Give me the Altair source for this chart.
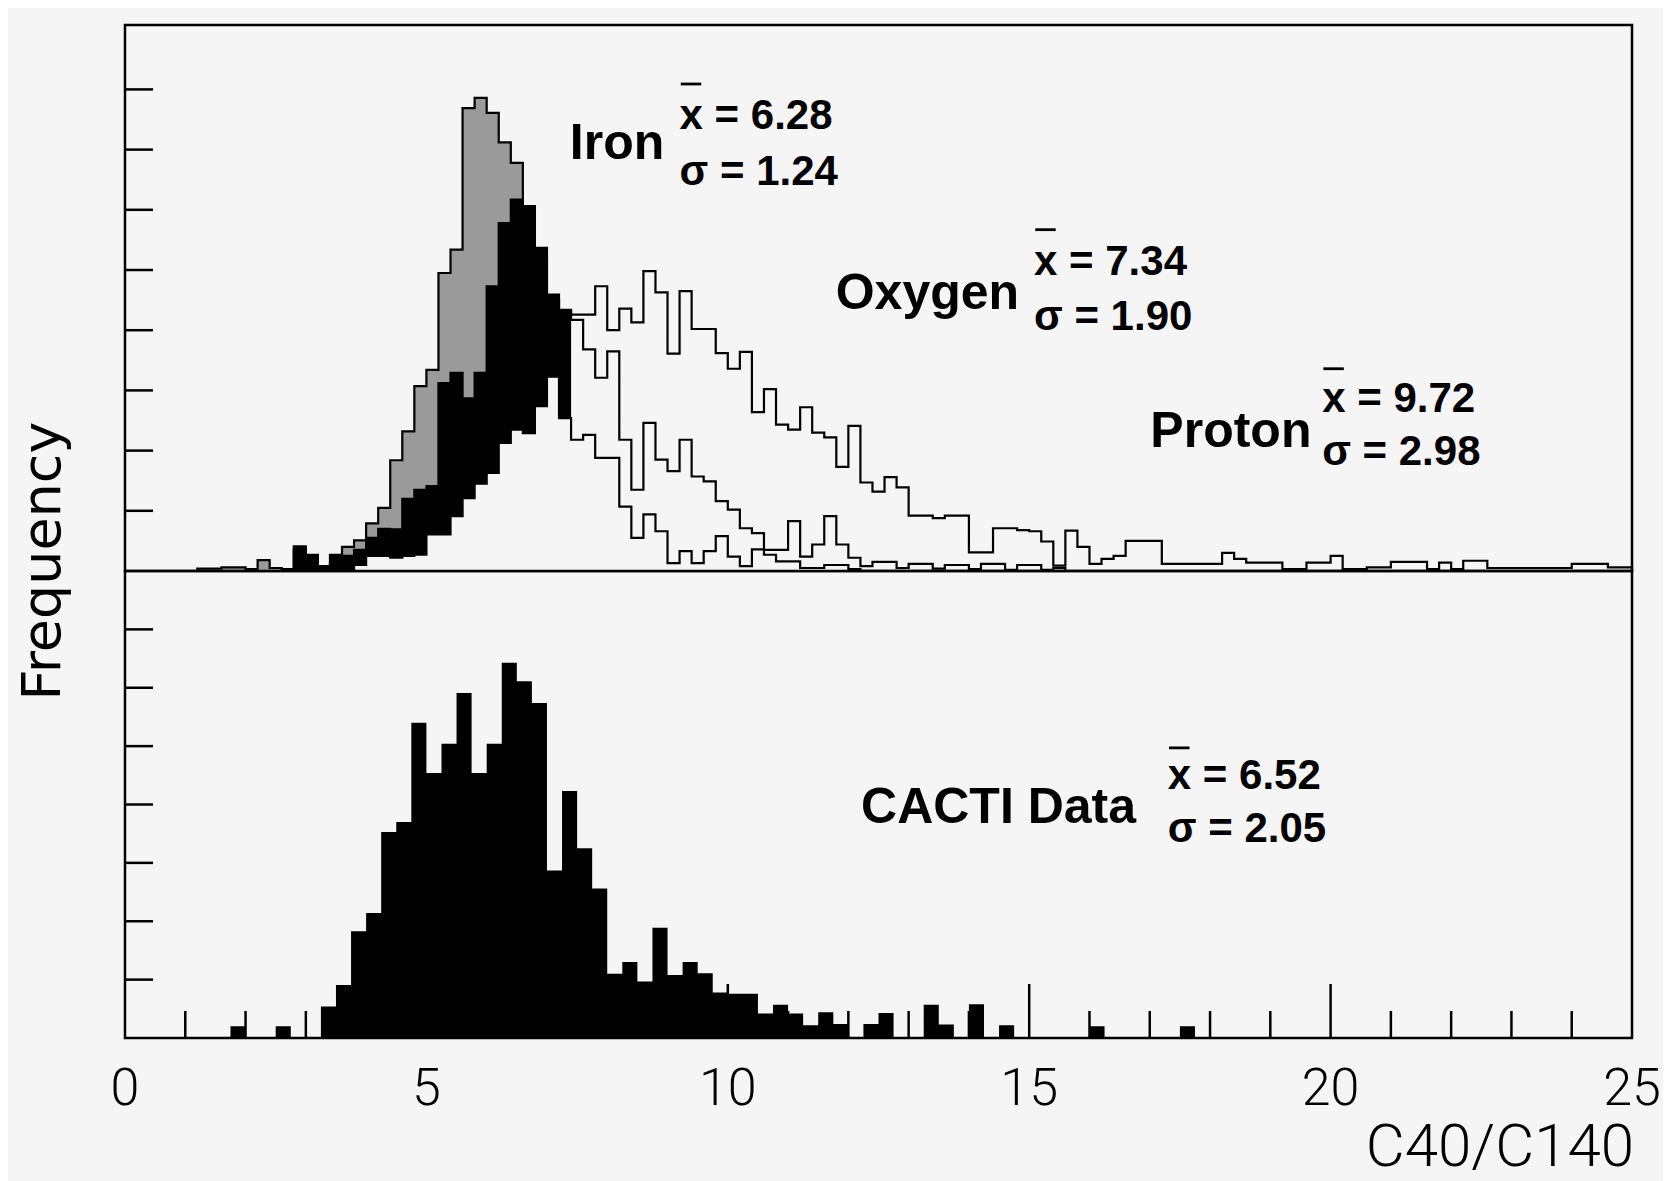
import altair as alt
import pandas as pd

# ---------------- data ----------------
# heights are in units of the y-tick spacing (the axes carry no numbers)
TOP_BIN = 0.2
BOT_BIN = 0.25

# upper panel, grey-shaded histogram (shading stops at fill_end, outline continues)
grey_start = 1.2
grey_vals = [0.04, 0.04, 0.06, 0.06, 0.03, 0.18, 0.05, 0.03,
             0.35, 0.22, 0.08, 0.12, 0.40, 0.51, 0.79, 1.05,
             1.84, 2.32, 3.07, 3.34, 4.95, 5.34, 7.69, 7.86,
             7.61, 7.12, 6.78, 6.00, 5.20, 4.50, 4.30,
             4.17, 3.68, 3.21, 3.65, 2.18, 1.35, 2.46, 1.85,
             1.66, 2.18, 1.57, 1.49, 1.16, 1.02, 0.71, 0.63,
             0.35, 0.35, 0.83, 0.24, 0.44, 0.91, 0.44, 0.22,
             0.08, 0.15, 0.15, 0.05, 0.12, 0.12, 0.04, 0.10,
             0.10, 0.03, 0.12, 0.12, 0.02, 0.10, 0.10, 0.02, 0.05]

# upper panel, black-filled histogram (fill stops at fill_end, outline continues)
black_start = 2.8
black_vals = [0.41, 0.27, 0.05, 0.27, 0.25, 0.35, 0.55, 0.70,
              0.69, 1.20, 1.35, 1.41, 3.12, 3.29, 2.87, 3.29,
              4.73, 5.78, 6.17, 6.06, 5.37, 4.59, 4.34,
              4.26, 4.26, 4.73, 4.00, 4.36, 4.13, 4.98, 4.63,
              3.61, 4.65, 4.02, 4.02, 3.62, 3.36, 3.64, 2.64,
              3.02, 2.43, 2.35, 2.72, 2.30, 2.22, 1.73, 2.41,
              1.47, 1.32, 1.56, 1.39, 0.92, 0.92, 0.88, 0.92,
              0.92, 0.31, 0.31, 0.71, 0.71, 0.68, 0.66, 0.49,
              0.09, 0.67, 0.40, 0.12, 0.20, 0.25, 0.50, 0.50,
              0.50, 0.12, 0.12, 0.12, 0.12, 0.12, 0.30, 0.20,
              0.14, 0.14, 0.14, 0.03, 0.03, 0.14, 0.14, 0.25,
              0.03, 0.03, 0.06, 0.06, 0.15, 0.15, 0.15, 0.03,
              0.14, 0.03, 0.17, 0.17, 0.05, 0.05, 0.05, 0.05,
              0.05, 0.05, 0.05, 0.12, 0.12, 0.12, 0.06, 0.06]

# upper panel, open (white) histogram
white_start = 3.8
white_vals = [0.10, 0.25, 0.25, 0.22, 0.25, 0.27, 0.61, 0.61,
              0.91, 1.21, 1.45, 1.63, 2.13, 2.35, 2.29, 2.74,
              3.23, 2.54, 2.18, 2.26, 1.88, 1.88, 1.07, 0.55,
              0.94, 0.66, 0.13, 0.33, 0.13, 0.33, 0.58, 0.24,
              0.08, 0.36, 0.27, 0.16, 0.16, 0.05, 0.05, 0.10,
              0.10, 0.03]

fill_end = 7.4

# lower panel, CACTI data
cacti_start = 1.75
cacti_vals = [0.20, 0.0, 0.0, 0.20, 0.0, 0.0, 0.54, 0.91,
              1.83, 2.14, 3.53, 3.70, 5.40, 4.54, 5.04, 5.91,
              4.54, 5.04, 6.43, 6.11, 5.74, 2.87, 4.23, 3.25,
              2.56, 1.10, 1.30, 0.97, 1.89, 1.08, 1.30, 1.11,
              0.78, 0.76, 0.76, 0.42, 0.57, 0.42, 0.22, 0.44,
              0.24, 0.0, 0.24, 0.43, 0.0, 0.0, 0.57, 0.23,
              0.0, 0.58, 0.0, 0.22, 0.0, 0.0, 0.0, 0.0,
              0.0, 0.20, 0.0, 0.0, 0.0, 0.0, 0.0, 0.20]

x_label_values = [0, 5, 10, 15, 20, 25]
x_major_ticks = [5, 10, 15, 20]
x_minor_ticks = [1, 2, 3, 4, 6, 7, 8, 9, 11, 12, 13, 14, 16, 17, 18, 19, 21, 22, 23, 24]
top_y_ticks = [1, 2, 3, 4, 5, 6, 7, 8]
bottom_y_ticks = [1, 2, 3, 4, 5, 6, 7]
x_title = "C40/C140"
y_title = "Frequency"

# annotations
top_names = ["Iron", "Oxygen", "Proton"]
top_name_x = [7.38, 11.79, 17.01]
top_name_y = [6.84, 4.36, 2.06]
top_means = ["6.28", "7.34", "9.72"]
top_sigmas = ["1.24", "1.90", "2.98"]
top_stat_x = [9.20, 15.08, 19.86]
top_mean_y = [7.34, 4.92, 2.64]
top_sigma_y = [6.41, 4.00, 1.76]
top_bar_y = [8.09, 5.67, 3.36]

bot_names = ["CACTI Data"]
bot_name_x = [12.21]
bot_name_y = [3.69]
bot_means = ["6.52"]
bot_sigmas = ["2.05"]
bot_stat_x = [17.30]
bot_mean_y = [4.27]
bot_sigma_y = [3.36]
bot_bar_y = [4.97]

# ---------------- layout ----------------
W = 1507
TOP_H = 546
BOT_H = 467
TOP_MAX = 9.07
BOT_MAX = 8.0
BG = "#f5f5f5"
LINE_W = 2.2

xs = alt.Scale(domain=[0, 25], nice=False, zero=False)
ys_top = alt.Scale(domain=[0, TOP_MAX], nice=False)
ys_bot = alt.Scale(domain=[0, BOT_MAX], nice=False)


def fill_df(start, width, vals, upto=None):
    n = len(vals)
    if upto is not None:
        n = sum(1 for i in range(len(vals)) if start + i * width < upto - 1e-9)
    rows = [{"x": round(start + i * width, 4), "y": vals[i]} for i in range(n)]
    rows.append({"x": round(start + n * width, 4), "y": vals[n - 1]})
    return pd.DataFrame(rows)


def outline_df(start, width, vals):
    rows = [{"x": start, "y": 0.0}]
    rows += [{"x": round(start + i * width, 4), "y": v} for i, v in enumerate(vals)]
    end = round(start + len(vals) * width, 4)
    rows.append({"x": end, "y": vals[-1]})
    rows.append({"x": end, "y": 0.0})
    df = pd.DataFrame(rows)
    df["i"] = range(len(df))
    return df


def area(df, color, ys):
    return alt.Chart(df).mark_area(interpolate="step-after", color=color, opacity=1).encode(
        x=alt.X("x:Q", scale=xs, axis=None),
        y=alt.Y("y:Q", scale=ys, axis=None))


def outline(df, ys):
    return alt.Chart(df).mark_line(interpolate="step-after", color="black",
                                   strokeWidth=LINE_W).encode(
        x=alt.X("x:Q", scale=xs, axis=None),
        y=alt.Y("y:Q", scale=ys, axis=None),
        order="i:Q")


def annotations(names, nx, ny, means, sigmas, sx, my, sy, by, ys):
    name_df = pd.DataFrame({"t": names, "x": nx, "y": ny})
    stat_df = pd.DataFrame({
        "t": ["x = " + m for m in means] + ["σ = " + s for s in sigmas],
        "x": list(sx) + list(sx),
        "y": list(my) + list(sy)})
    bar_df = pd.DataFrame({"x": [v + 0.02 for v in sx], "x2": [v + 0.36 for v in sx], "y": by})
    names_l = alt.Chart(name_df).mark_text(
        align="left", baseline="alphabetic", font="Liberation Sans", fontWeight="bold",
        fontSize=50, color="black").encode(
        x=alt.X("x:Q", scale=xs, axis=None), y=alt.Y("y:Q", scale=ys, axis=None), text="t:N")
    stats_l = alt.Chart(stat_df).mark_text(
        align="left", baseline="alphabetic", font="Liberation Sans", fontWeight="bold",
        fontSize=42, color="black").encode(
        x=alt.X("x:Q", scale=xs, axis=None), y=alt.Y("y:Q", scale=ys, axis=None), text="t:N")
    bars_l = alt.Chart(bar_df).mark_rule(color="black", strokeWidth=2.8).encode(
        x=alt.X("x:Q", scale=xs, axis=None), x2="x2:Q", y=alt.Y("y:Q", scale=ys, axis=None))
    return [names_l, stats_l, bars_l]


# ---------------- upper panel ----------------
top_yticks = alt.Chart(pd.DataFrame({"t": top_y_ticks})).mark_rule(
    color="black", strokeWidth=2.5).encode(
    y=alt.Y("t:Q", scale=ys_top, axis=None),
    x=alt.value(0), x2=alt.value(28))

y_title_mark = alt.Chart(pd.DataFrame({"t": [y_title]})).mark_text(
    align="center", baseline="alphabetic", angle=270, font="DejaVu Sans",
    fontSize=54, color="black").encode(
    text="t:N", x=alt.value(-65), y=alt.value(536))

top = alt.layer(
    area(fill_df(grey_start, TOP_BIN, grey_vals, fill_end), "#9a9a9a", ys_top),
    area(fill_df(black_start, TOP_BIN, black_vals, fill_end), "black", ys_top),
    area(fill_df(white_start, TOP_BIN, white_vals), BG, ys_top),
    outline(outline_df(grey_start, TOP_BIN, grey_vals), ys_top),
    outline(outline_df(black_start, TOP_BIN, black_vals), ys_top),
    outline(outline_df(white_start, TOP_BIN, white_vals), ys_top),
    top_yticks,
    y_title_mark,
    *annotations(top_names, top_name_x, top_name_y, top_means, top_sigmas,
                 top_stat_x, top_mean_y, top_sigma_y, top_bar_y, ys_top),
).properties(width=W, height=TOP_H)

# ---------------- lower panel ----------------
bot_minor = alt.Chart(pd.DataFrame({"u": x_minor_ticks})).mark_rule(
    color="black", strokeWidth=2.5).encode(
    x=alt.X("u:Q", scale=xs, axis=None),
    y=alt.value(BOT_H), y2=alt.value(BOT_H - 27))

bot_major = alt.Chart(pd.DataFrame({"u": x_major_ticks})).mark_rule(
    color="black", strokeWidth=2.5).encode(
    x=alt.X("u:Q", scale=xs, axis=None),
    y=alt.value(BOT_H), y2=alt.value(BOT_H - 54))

bot_yticks = alt.Chart(pd.DataFrame({"t": bottom_y_ticks})).mark_rule(
    color="black", strokeWidth=2.5).encode(
    y=alt.Y("t:Q", scale=ys_bot, axis=None),
    x=alt.value(0), x2=alt.value(28))

x_labels = alt.Chart(pd.DataFrame({"u": x_label_values,
                                   "t": [str(v) for v in x_label_values]})).mark_text(
    align="center", baseline="alphabetic", font="Roboto", fontWeight=300,
    fontSize=52, color="black").encode(
    x=alt.X("u:Q", scale=xs, axis=None), y=alt.value(BOT_H + 67), text="t:N")

x_title_mark = alt.Chart(pd.DataFrame({"t": [x_title]})).mark_text(
    align="right", baseline="alphabetic", font="Roboto", fontWeight=300,
    fontSize=60, color="black").encode(
    text="t:N", x=alt.value(W + 2), y=alt.value(BOT_H + 128))

bottom = alt.layer(
    area(fill_df(cacti_start, BOT_BIN, cacti_vals), "black", ys_bot),
    bot_minor,
    bot_major,
    bot_yticks,
    x_labels,
    x_title_mark,
    *annotations(bot_names, bot_name_x, bot_name_y, bot_means, bot_sigmas,
                 bot_stat_x, bot_mean_y, bot_sigma_y, bot_bar_y, ys_bot),
).properties(width=W, height=BOT_H)

chart = alt.vconcat(top, bottom, spacing=0, bounds="flush").properties(
    padding={"left": 7, "top": 15, "right": 0, "bottom": 6},
    background=BG,
).configure_view(stroke="black", strokeWidth=2.5)

chart.save("out.html", embed_options={"renderer": "svg", "actions": False})
